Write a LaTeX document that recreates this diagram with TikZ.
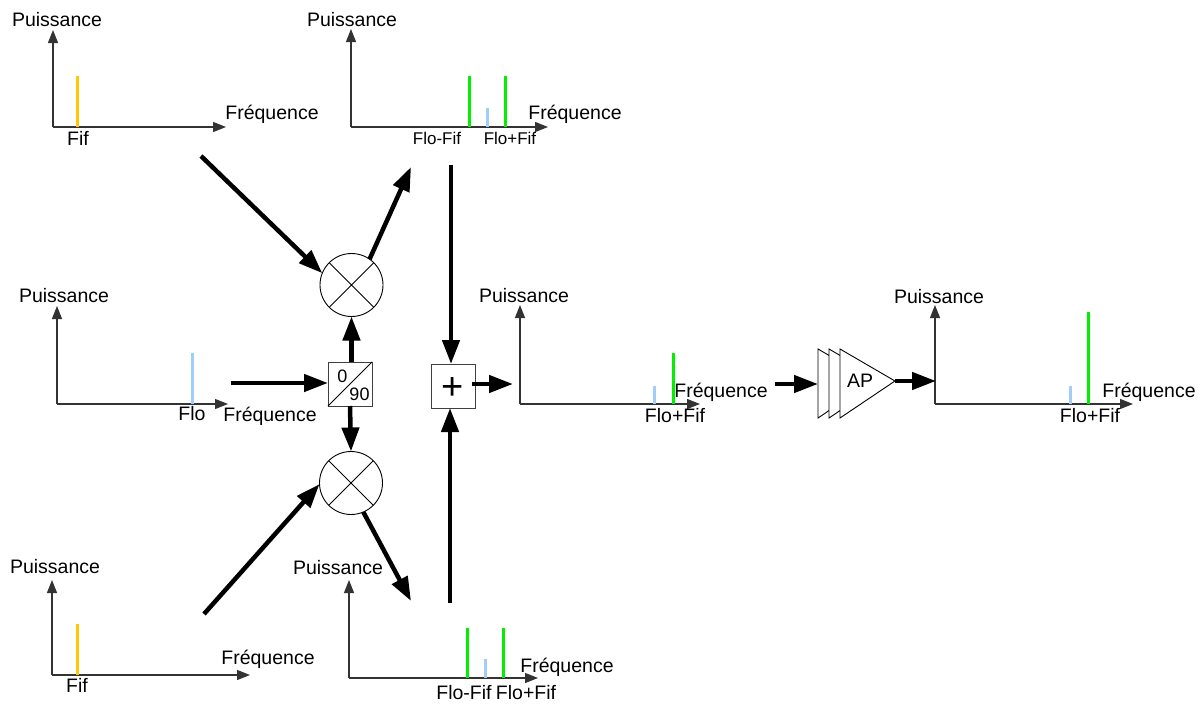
\documentclass[tikz,border=0pt]{standalone}
\usepackage{fontspec}
\setmainfont{Liberation Sans}
\usetikzlibrary{arrows.meta,shapes.geometric}
\tikzset{
  lab/.style={inner sep=0pt,font=\fontsize{19.5}{19.5}\selectfont,text height=15pt,text depth=3pt,anchor=center},
  slab/.style={inner sep=0pt,font=\fontsize{17}{17}\selectfont,text height=14pt,text depth=1pt,anchor=center},
  axis/.style={draw=black!80,line width=1.1pt,-{Triangle[length=13pt,width=10pt]}},
  thick arrow/.style={draw=black,line width=4.5pt,-{Triangle[length=24pt,width=17pt]}},
  box/.style={draw=black!75,line width=1pt,fill=white,minimum size=44pt,inner sep=0pt,outer sep=0pt},
  mixer/.style={circle,draw=black,line width=.9pt,minimum size=63pt,inner sep=0pt,outer sep=0pt},
  amp/.style={draw=black,line width=.9pt,fill=white,line join=miter},
  orange line/.style={draw={rgb,255:red,255;green,200;blue,0},line width=3pt},
  green line/.style={draw={rgb,255:red,0;green,240;blue,0},line width=3pt},
  blue line/.style={draw={rgb,255:red,160;green,205;blue,250},line width=3pt},
}
\newcommand{\axes}[5]{%
  \coordinate (o#1) at (#2,#3);
  \coordinate (t#1) at (#2,#4);
  \coordinate (r#1) at (#5,#3);
  \draw[axis] (o#1) -- (t#1);
  \draw[axis] (o#1) -- (r#1);
}
\begin{document}
\begin{tikzpicture}[x=1pt,y=-1pt]
\useasboundingbox (0,0) rectangle (1203,704);

% panels
\axes{a}{53}{127}{30}{226}
\axes{b}{351}{127}{29}{548}
\axes{c}{57}{404}{306}{228}
\axes{d}{52}{675}{580}{250}
\axes{e}{349}{678}{580}{538}
\axes{f}{520}{404}{305}{700}
\axes{g}{935}{404}{305}{1133}

% spectral lines
\draw[orange line] (77,127) -- (77,76);
\draw[green line] (469,127) -- (469,76);
\draw[green line] (505,127) -- (505,76);
\draw[blue line] (487,127) -- (487,108);
\draw[blue line] (192,404) -- (192,353);
\draw[orange line] (77,675) -- (77,624);
\draw[green line] (467,678) -- (467,628);
\draw[green line] (503,678) -- (503,628);
\draw[blue line] (485,678) -- (485,659);
\draw[blue line] (654,404) -- (654,386);
\draw[green line] (673,404) -- (673,353);
\draw[blue line] (1070,404) -- (1070,386);
\draw[green line] (1088,404) -- (1088,312);

% labels
\node[lab] (pa) at (57,21) {Puissance};
\node[lab] (fa) at (272,113) {Fréquence};
\node[lab] (va) at (78,139) {Fif};
\node[lab] (pb) at (352,20) {Puissance};
\node[lab] (fb) at (575,113) {Fréquence};
\node[slab] (vb1) at (437,138) {Flo-Fif};
\node[slab] (vb2) at (510,138) {Flo+Fif};
\node[lab] (pc) at (64,296) {Puissance};
\node[lab] (fc) at (270,415) {Fréquence};
\node[lab] (vc) at (192,414) {Flo};
\node[lab] (pd) at (55,567) {Puissance};
\node[lab] (fd) at (268,658) {Fréquence};
\node[lab] (vd) at (77,686) {Fif};
\node[lab] (pe) at (338,568) {Puissance};
\node[lab] (fe) at (567,666) {Fréquence};
\node[lab] (ve1) at (464,693) {Flo-Fif};
\node[lab] (ve2) at (526,693) {Flo+Fif};
\node[lab] (pf) at (524,296) {Puissance};
\node[lab] (ff) at (721,391) {Fréquence};
\node[lab] (vf) at (675,416) {Flo+Fif};
\node[lab] (pg) at (939,297) {Puissance};
\node[lab] (fg) at (1149,391) {Fréquence};
\node[lab] (vg) at (1090,416) {Flo+Fif};

% mixers
\node[mixer] (m1) at (351.5,285) {};
\draw[line width=.9pt] (m1.45) -- (m1.225) (m1.135) -- (m1.315);
\node[mixer] (m2) at (351,483) {};
\draw[line width=.9pt] (m2.45) -- (m2.225) (m2.135) -- (m2.315);

% phase splitter
\node[box] (ph) at (350,384) {};
\draw[line width=.9pt] (ph.south west) -- (ph.north east);
\node[slab,font=\fontsize{18}{18}\selectfont] (ph0) at (342.5,376) {0};
\node[slab,font=\fontsize{18}{18}\selectfont] (ph90) at (359.5,393.5) {90};

% summer
\node[box] (sum) at (453,386) {};
\node[inner sep=0pt,font=\fontsize{38}{38}\selectfont] (plus) at (453,389) {+};

% amplifier
\draw[amp] (818,349) -- (873,381) -- (818,418) -- cycle;
\draw[amp] (829,349) -- (884,381) -- (829,418) -- cycle;
\coordinate (ampin) at (818,384);
\coordinate (ampout) at (895,381);
\draw[amp] (840,349) -- (ampout) -- (840,418) -- cycle;
\node[lab] (ap) at (860,381) {AP};

% free ends
\coordinate (s1) at (201,156);
\coordinate (e1) at (411,167);
\coordinate (s2) at (451,165);
\coordinate (s3) at (231,383);
\coordinate (s4) at (204,614);
\coordinate (e4) at (411,601);
\coordinate (s5) at (450,603);
\coordinate (s6) at (472,384);
\coordinate (e6) at (513,384);
\coordinate (s7) at (775,384);
\coordinate (e7) at (936,381);

% thick connectors
\draw[thick arrow] (s1) -- (m1.158);
\draw[thick arrow] (m1.55) -- (e1);
\draw[thick arrow] (s2) -- (sum.north -| s2);
\draw[thick arrow] (ph.north -| m1) -- (m1.south);
\draw[thick arrow] (s3) -- (ph.west |- s3);
\draw[thick arrow] (ph.south) -- (m2.north);
\draw[thick arrow] (s4) -- (m2.182);
\draw[thick arrow] (m2.293) -- (e4);
\draw[thick arrow] (s5) -- (sum.south -| s5);
\draw[thick arrow] (s6) -- (e6);
\draw[thick arrow] (s7) -- (ampin);
\draw[thick arrow] (ampout) -- (e7);
\end{tikzpicture}
\end{document}
